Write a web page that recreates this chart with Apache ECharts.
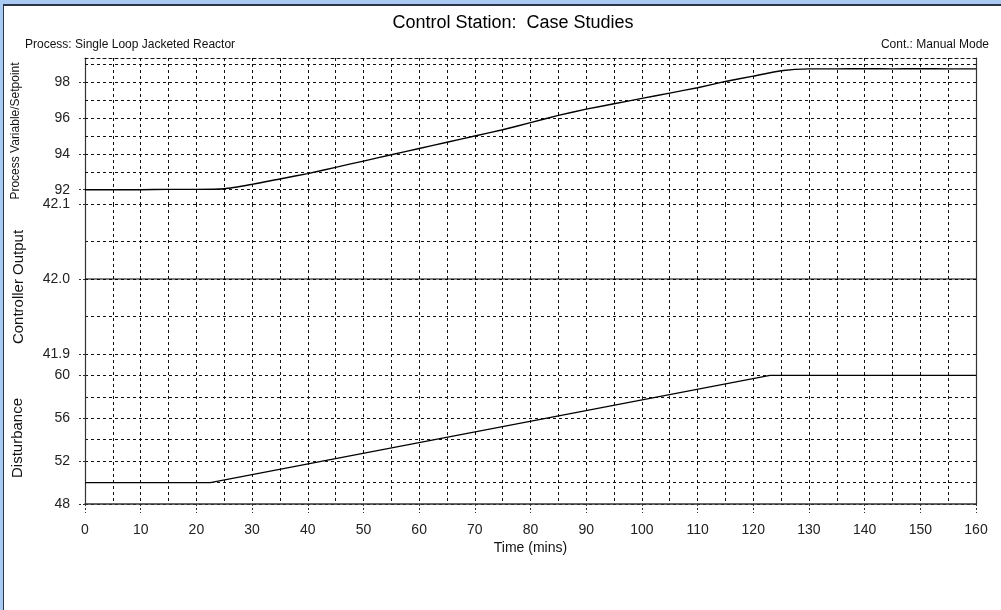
<!DOCTYPE html>
<html>
<head>
<meta charset="utf-8">
<script src="https://cdn.jsdelivr.net/npm/echarts@6/dist/echarts.min.js"></script>
<style>
  html, body { margin: 0; padding: 0; width: 1001px; height: 610px; overflow: hidden; background: #a9caf2; }
  #frame { position: absolute; left: 3px; top: 4px; width: 998px; height: 606px; background: #fff;
           border-left: 1px solid #2a3646; border-top: 2px solid #2a3646; box-sizing: border-box; }
  #chart { position: absolute; left: 0; top: 0; width: 1001px; height: 610px; }
</style>
</head>
<body>
<div id="frame"></div>
<div id="chart"></div>
<script>
// ---- data ----
const pvTime = [0, 5, 10, 15, 20, 25, 30, 35, 40, 45, 50, 55, 60, 65, 70, 75, 80, 85, 90, 95, 100, 105, 110, 115, 120, 125, 130, 135, 140, 145, 150, 155, 160];
const pvValues = [92.0, 92.0, 92.0, 92.02, 92.02, 92.05, 92.3, 92.6, 92.9, 93.25, 93.6, 93.95, 94.3, 94.65, 95.0, 95.35, 95.75, 96.15, 96.5, 96.8, 97.1, 97.4, 97.7, 98.05, 98.35, 98.65, 98.75, 98.75, 98.76, 98.75, 98.76, 98.75, 98.75];
const coTime = [0, 160];
const coValues = [42.0, 42.0];
const distTime = [0, 22.5, 123, 160];
const distValues = [50, 50, 60, 60];
const pvGridLines = [92, 93, 94, 95, 96, 97, 98, 99];
const pvTickLabels = [92, 94, 96, 98];
const coTickLabels = [41.9, 42.0, 42.1];
const distTickLabels = [48, 52, 56, 60];
const timeTickLabels = [0, 10, 20, 30, 40, 50, 60, 70, 80, 90, 100, 110, 120, 130, 140, 150, 160];

const FONT = 'Liberation Sans, Arial, sans-serif';
const dash = { type: [3, 3], color: '#111', width: 1 };
const axisColor = '#333';

function zip(a, b) { return a.map((t, i) => [t, b[i]]); }

const chart = echarts.init(document.getElementById('chart'), null, { renderer: 'canvas' });

const gridLeft = 85, gridRight = 25;
const grids = [
  { left: gridLeft, right: gridRight, top: 58, height: 146 },
  { left: gridLeft, right: gridRight, top: 204, height: 150 },
  { left: gridLeft, right: gridRight, top: 354, height: 150 }
];

const hidden = { axisLabel: { show: false }, axisTick: { show: false } };

const xAxes = [
  // grid 0: vertical grid + dashed top border
  { type: 'value', gridIndex: 0, min: 0, max: 160, interval: 5, position: 'top',
    splitLine: { show: true, lineStyle: dash }, ...hidden,
    axisLine: { show: true, onZero: false, lineStyle: dash } },
  // grid 1: vertical grid only
  { type: 'value', gridIndex: 1, min: 0, max: 160, interval: 5, position: 'bottom',
    splitLine: { show: true, lineStyle: dash }, ...hidden,
    axisLine: { show: false, onZero: false } },
  // grid 2: vertical grid + solid axis line
  { type: 'value', gridIndex: 2, min: 0, max: 160, interval: 5, position: 'bottom',
    splitLine: { show: true, lineStyle: dash }, ...hidden,
    axisLine: { show: true, onZero: false, lineStyle: { color: axisColor, width: 1.5 } } },
  // grid 2: ticks, labels, name
  { type: 'value', gridIndex: 2, min: 0, max: 160, position: 'bottom',
    splitLine: { show: false },
    axisLine: { show: false, onZero: false },
    axisLabel: { show: true, customValues: timeTickLabels, fontSize: 14, color: '#222', fontFamily: FONT, margin: 19 },
    axisTick: { show: true, customValues: timeTickLabels, length: 9, lineStyle: { type: [2, 2], color: '#333' } },
    name: 'Time (mins)', nameLocation: 'middle', nameGap: 37,
    nameTextStyle: { fontSize: 14, color: '#111', fontFamily: FONT } }
];

function rightAxis(i) {
  return {
    type: 'value', gridIndex: i, position: 'right',
    axisLine: { show: true, lineStyle: { color: axisColor, width: 1.2 } },
    axisTick: { show: false }, axisLabel: { show: false }, splitLine: { show: false }
  };
}

const yTick = (vals) => ({ show: true, customValues: vals, length: 7, lineStyle: { type: [2, 2], color: '#333' } });
const yLabel = (vals, fmt) => ({ show: true, customValues: vals, fontSize: 14, color: '#222', fontFamily: FONT, margin: 15, formatter: fmt });

const yAxes = [
  // 0: PV axis
  { type: 'value', gridIndex: 0, position: 'left', min: 91.2, max: 99.36,
    axisLine: { show: true, lineStyle: { color: axisColor, width: 1.2 } },
    splitLine: { show: false },
    axisTick: yTick(pvTickLabels),
    axisLabel: yLabel(pvTickLabels, v => String(Math.round(v))),
    name: 'Process Variable/Setpoint', nameLocation: 'middle', nameGap: 63,
    nameTextStyle: { fontSize: 12, color: '#111', fontFamily: FONT } },
  rightAxis(0),
  // 2: CO grid axis
  { type: 'value', gridIndex: 1, position: 'left', min: 41.9, max: 42.1, interval: 0.05,
    axisLine: { show: true, lineStyle: { color: axisColor, width: 1.2 } },
    splitLine: { show: true, lineStyle: dash }, ...hidden },
  // 3: CO labels
  { type: 'value', gridIndex: 1, position: 'left', min: 41.9, max: 42.1,
    axisLine: { show: false }, splitLine: { show: false },
    axisTick: yTick(coTickLabels),
    axisLabel: yLabel(coTickLabels, v => v.toFixed(1)),
    name: 'Controller Output', nameLocation: 'middle', nameGap: 59,
    nameTextStyle: { fontSize: 15, color: '#111', fontFamily: FONT, padding: [0, 16, 0, 0] } },
  rightAxis(1),
  // 5: Disturbance grid axis
  { type: 'value', gridIndex: 2, position: 'left', min: 48, max: 62, interval: 2,
    axisLine: { show: true, lineStyle: { color: axisColor, width: 1.2 } },
    splitLine: { show: true, lineStyle: dash }, ...hidden },
  // 6: Disturbance labels
  { type: 'value', gridIndex: 2, position: 'left', min: 48, max: 62,
    axisLine: { show: false }, splitLine: { show: false },
    axisTick: yTick(distTickLabels),
    axisLabel: yLabel(distTickLabels, v => String(Math.round(v))),
    name: 'Disturbance', nameLocation: 'middle', nameGap: 60,
    nameTextStyle: { fontSize: 15, color: '#111', fontFamily: FONT, padding: [0, 18, 0, 0] } },
  rightAxis(2)
];

const option = {
  animation: false,
  backgroundColor: 'transparent',
  title: [
    { text: 'Control Station:  Case Studies', left: 508, top: 9, textAlign: 'center',
      textStyle: { fontSize: 18, fontWeight: 'normal', color: '#000', fontFamily: FONT } },
    { text: 'Process: Single Loop Jacketed Reactor', left: 20, top: 34,
      textStyle: { fontSize: 12, fontWeight: 'normal', color: '#111', fontFamily: FONT } },
    { text: 'Cont.: Manual Mode', right: 7, top: 34,
      textStyle: { fontSize: 12, fontWeight: 'normal', color: '#111', fontFamily: FONT } }
  ],
  grid: grids,
  xAxis: xAxes,
  yAxis: yAxes,
  series: [
    { type: 'line', name: 'PV', xAxisIndex: 0, yAxisIndex: 0, data: zip(pvTime, pvValues),
      symbol: 'none', smooth: 0.2, lineStyle: { color: '#000', width: 1.4 }, z: 5,
      markLine: { silent: true, symbol: 'none', label: { show: false }, animation: false,
        lineStyle: { type: [3, 3], color: '#111', width: 1 },
        data: pvGridLines.map(v => ({ yAxis: v })) } },
    { type: 'line', name: 'CO', xAxisIndex: 1, yAxisIndex: 2, data: zip(coTime, coValues),
      symbol: 'none', lineStyle: { color: '#000', width: 1.2 }, z: 5 },
    { type: 'line', name: 'Disturbance', xAxisIndex: 2, yAxisIndex: 5, data: zip(distTime, distValues),
      symbol: 'none', lineStyle: { color: '#000', width: 1.2 }, z: 5 }
  ]
};
chart.setOption(option);
</script>
</body>
</html>
